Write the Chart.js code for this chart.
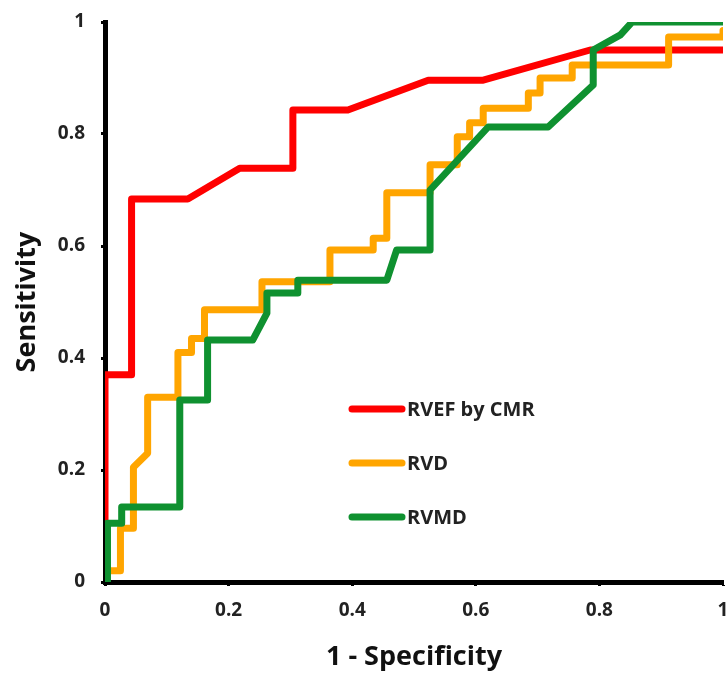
<!DOCTYPE html>
<html>
<head>
<meta charset="utf-8">
<script src="https://cdn.jsdelivr.net/npm/chart.js@4"></script>
<style>
  html, body { margin: 0; padding: 0; background: #fff; }
  canvas { display: block; }
</style>
</head>
<body>
<canvas id="roc" width="728" height="674"></canvas>
<script>
var labels = ["RVEF by CMR", "RVD", "RVMD"];
var colors = ["#ff0000", "#ffa500", "#0f9130"];

// 1 - specificity / sensitivity pairs
var rvefX = [0, 0, 0.043, 0.043, 0.134, 0.218, 0.304, 0.304, 0.393, 0.523, 0.612, 0.785, 1];
var rvefY = [0, 0.37, 0.37, 0.684, 0.684, 0.739, 0.739, 0.843, 0.843, 0.896, 0.896, 0.95, 0.95];

var rvdX = [0, 0, 0.025, 0.025, 0.046, 0.046, 0.069, 0.069, 0.118, 0.118, 0.14, 0.14, 0.161, 0.161,
  0.254, 0.254, 0.364, 0.364, 0.434, 0.434, 0.456, 0.456, 0.526, 0.526, 0.57, 0.57, 0.59, 0.59,
  0.612, 0.612, 0.685, 0.685, 0.704, 0.704, 0.756, 0.756, 0.912, 0.912, 1, 1];
var rvdY = [0, 0.02, 0.02, 0.096, 0.096, 0.205, 0.23, 0.33, 0.33, 0.41, 0.41, 0.435, 0.435, 0.486,
  0.486, 0.536, 0.536, 0.593, 0.593, 0.614, 0.614, 0.695, 0.695, 0.745, 0.745, 0.795, 0.795, 0.82,
  0.82, 0.846, 0.846, 0.873, 0.873, 0.9, 0.9, 0.923, 0.923, 0.973, 0.973, 0.985];

var rvmdX = [0.004, 0.004, 0.027, 0.027, 0.121, 0.121, 0.166, 0.166, 0.239, 0.262, 0.262, 0.312, 0.312,
  0.456, 0.472, 0.526, 0.526, 0.62, 0.717, 0.79, 0.79, 0.834, 0.853, 1];
var rvmdY = [0, 0.105, 0.105, 0.134, 0.134, 0.325, 0.325, 0.432, 0.432, 0.48, 0.516, 0.516, 0.539,
  0.539, 0.593, 0.593, 0.7, 0.8125, 0.8125, 0.8875, 0.95, 0.977, 1, 1];

var tickVals = [0, 0.2, 0.4, 0.6, 0.8, 1];

function pts(xs, ys) {
  return xs.map(function(x, i) {
    return { x: x, y: ys[i] };
  });
}

var series = [pts(rvefX, rvefY), pts(rvdX, rvdY), pts(rvmdX, rvmdY)];
var fontFam = "'Open Sans', Lato, sans-serif";

// legend sits inside the plot, drawn by hand
var insideLegend = {
  id: "insideLegend",
  afterDraw: function(chart) {
    var ctx = chart.ctx;
    var a = chart.chartArea;
    var x0 = a.left + 247;
    var y0 = a.top + 387;
    ctx.save();
    ctx.font = "bold 20px " + fontFam;
    ctx.textBaseline = "middle";
    ctx.textAlign = "left";
    for (var i = 0; i < labels.length; i++) {
      var y = y0 + i * 54;
      ctx.strokeStyle = colors[i];
      ctx.lineWidth = 7;
      ctx.lineCap = "round";
      ctx.beginPath();
      ctx.moveTo(x0, y);
      ctx.lineTo(x0 + 50, y);
      ctx.stroke();
      ctx.fillStyle = "#222";
      ctx.fillText(labels[i], x0 + 55, y + 1);
    }
    ctx.restore();
  }
};

var axisBase = {
  type: "linear",
  min: 0,
  max: 1,
  border: { display: true, color: "#000", width: 5 },
  grid: { drawOnChartArea: false, drawTicks: true, tickLength: 4, tickWidth: 3, tickColor: "#000" },
  afterBuildTicks: function(scale) {
    scale.ticks = tickVals.map(function(v) { return { value: v }; });
  }
};

function tickText(v) {
  return String(v);
}

var chart = new Chart(document.getElementById("roc").getContext("2d"), {
  type: "line",
  data: {
    datasets: series.map(function(d, i) {
      return {
        label: labels[i],
        data: d,
        borderColor: colors[i],
        backgroundColor: colors[i],
        borderWidth: 7,
        borderJoinStyle: "round",
        borderCapStyle: "round",
        pointRadius: 0,
        tension: 0,
        fill: false,
        order: 3 - i
      };
    })
  },
  options: {
    responsive: false,
    animation: false,
    devicePixelRatio: 1,
    events: [],
    layout: { padding: { left: 0, top: 22, right: 5, bottom: 0 } },
    plugins: { legend: { display: false }, tooltip: { enabled: false } },
    scales: {
      x: Object.assign({}, axisBase, {
        ticks: { color: "#222", padding: 13, callback: tickText,
          font: { family: fontFam, size: 19, weight: "bold" } },
        title: { display: true, text: "1 - Specificity", color: "#111", padding: { top: 0, bottom: 0 },
          font: { family: fontFam, size: 27, weight: "bold" } },
        afterFit: function(scale) {
          scale.height = 92;
          scale.paddingLeft = 0;
          scale.paddingRight = 0;
        }
      }),
      y: Object.assign({}, axisBase, {
        ticks: { color: "#222", padding: 16, callback: tickText,
          font: { family: fontFam, size: 19, weight: "bold" } },
        title: { display: true, text: "Sensitivity", color: "#111", padding: { top: 11, bottom: 0 },
          font: { family: fontFam, size: 27, weight: "bold" } },
        afterFit: function(scale) {
          scale.width = 105;
          scale.paddingTop = 0;
          scale.paddingBottom = 0;
        }
      })
    }
  },
  plugins: [insideLegend]
});
</script>
</body>
</html>
